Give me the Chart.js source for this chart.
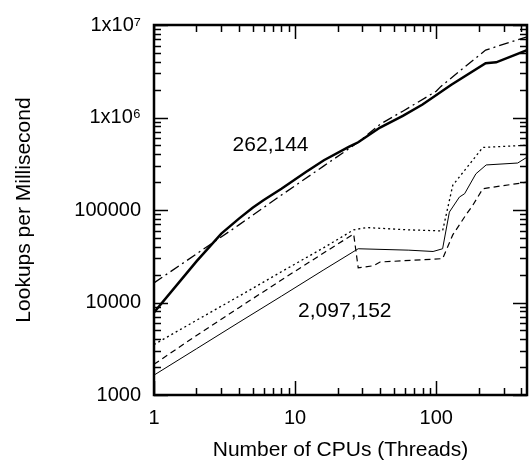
<!DOCTYPE html>
<html>
<head>
<meta charset="utf-8">
<script src="https://cdn.jsdelivr.net/npm/chart.js@4.4.1/dist/chart.umd.min.js"></script>
<style>
  html,body{margin:0;padding:0;background:#fff;}
  #wrap{width:529px;height:463px;}
</style>
</head>
<body>
<div id="wrap"><canvas id="chart" width="529" height="463"></canvas></div>
<script>
// ── DATOS ───────────────────────────────────────────────
// 262,144 entradas
const solid262X   = [1, 2, 3, 4, 5, 6, 8, 12, 16, 24, 28, 40, 58, 80, 128, 224, 266, 440];
const solid262Y   = [7800, 27800, 55600, 80700, 106000, 128000, 170000, 259000, 345000, 480000, 540000, 778000, 1040000, 1380000, 2260000, 3870000, 3950000, 5360000];
const dashdot262X = [1, 2, 4, 8, 16, 28, 40, 58, 100, 108, 224, 440];
const dashdot262Y = [16300, 33500, 69000, 145000, 300000, 540000, 844000, 1170000, 1920000, 2170000, 5360000, 7460000];

// 2,097,152 entradas
const dotted2mX = [1, 2, 4, 8, 16, 26, 32, 64, 111, 131, 162, 214, 440];
const dotted2mY = [3510, 6420, 11700, 21500, 39200, 61000, 64600, 61000, 59400, 185000, 278000, 475000, 502000];
const dashed2mX = [1, 2, 4, 8, 16, 26, 28, 36, 40, 111, 131, 162, 182, 214, 440];
const dashed2mY = [2150, 4400, 8800, 17500, 34500, 55000, 23700, 25000, 27400, 29800, 53800, 88000, 113000, 170000, 200000];
const thin2mX   = [1, 2, 4, 8, 16, 28, 64, 95, 111, 124, 146, 159, 191, 226, 378, 440];
const thin2mY   = [1640, 3160, 6100, 11700, 22600, 38100, 36800, 35600, 38100, 95000, 138000, 150000, 246000, 307000, 322000, 372000];

// ejes
const xMajorTicks = [1, 10, 100];
const xTickLabels = ['1', '10', '100'];
const xMinorTicks = [2,3,4,5,6,7,8,9, 20,30,40,50,60,70,80,90, 200,300,400];
const yMajorTicks = [1e3, 1e4, 1e5, 1e6, 1e7];
const yTickLabels = ['1000', '10000', '100000', '1x10\u2076', '1x10\u2077'];
const yMinorTicks = [];
[1e3, 1e4, 1e5, 1e6].forEach(d => { for (let k = 2; k <= 9; k++) yMinorTicks.push(d * k); });

// textos dentro del gráfico
const notes = [
  { text: '262,144',   x: 6.7,  y: 499000 },
  { text: '2,097,152', x: 22.5, y: 8130 },
];

// ── UTILS ───────────────────────────────────────────────
const FONT = "'Liberation Sans', Arial, Helvetica, sans-serif";
function pts(xs, ys){ return xs.map((x, i) => ({ x, y: ys[i] })); }
function line(data, width, dash){
  return { data, borderColor:'#000', backgroundColor:'#000', borderWidth:width,
           borderDash:dash, pointRadius:0, tension:0, fill:false };
}

// ── PLUGIN: marco y marcas hacia adentro ────────────────
const frameTicks = {
  id: 'frameTicks',
  afterDatasetsDraw(chart){
    const { ctx, chartArea:a, scales:{ x, y } } = chart;
    ctx.save();
    ctx.strokeStyle = '#000';
    ctx.lineWidth = 1.5;
    ctx.beginPath();
    const tx = (v, len) => {
      const p = Math.round(x.getPixelForValue(v)) + 0.5;
      ctx.moveTo(p, a.bottom); ctx.lineTo(p, a.bottom - len);
      ctx.moveTo(p, a.top);    ctx.lineTo(p, a.top + len);
    };
    const ty = (v, len) => {
      const p = Math.round(y.getPixelForValue(v)) + 0.5;
      ctx.moveTo(a.left, p);  ctx.lineTo(a.left + len, p);
      ctx.moveTo(a.right, p); ctx.lineTo(a.right - len, p);
    };
    xMajorTicks.forEach(v => tx(v, 14));
    xMinorTicks.forEach(v => tx(v, 7));
    yMajorTicks.forEach(v => ty(v, 14));
    yMinorTicks.forEach(v => ty(v, 7));
    ctx.stroke();
    ctx.lineWidth = 2.5;
    ctx.strokeRect(a.left, a.top, a.right - a.left, a.bottom - a.top);

    ctx.fillStyle = '#000';
    ctx.font = '21px ' + FONT;
    ctx.textAlign = 'center';
    ctx.textBaseline = 'middle';
    notes.forEach(n => ctx.fillText(n.text, x.getPixelForValue(n.x), y.getPixelForValue(n.y)));
    ctx.restore();
  }
};

// ── GRÁFICO ─────────────────────────────────────────────
Chart.defaults.color = '#000';
Chart.defaults.font.family = FONT;

new Chart(document.getElementById('chart'), {
  type: 'scatter',
  data: {
    datasets: [
      line(pts(thin2mX, thin2mY), 1, []),
      line(pts(dashed2mX, dashed2mY), 1.2, [6, 4]),
      line(pts(dotted2mX, dotted2mY), 1.3, [2, 3]),
      line(pts(dashdot262X, dashdot262Y), 1.3, [10, 4, 2, 4]),
      line(pts(solid262X, solid262Y), 2.5, []),
    ].map(d => ({ ...d, showLine: true }))
  },
  options: {
    responsive: false,
    devicePixelRatio: 1,
    animation: false,
    layout: { padding: { top: 21, right: 2, left: 0, bottom: 0 } },
    plugins: { legend: { display: false }, tooltip: { enabled: false } },
    scales: {
      x: {
        type: 'logarithmic', min: 1, max: 440, bounds: 'data',
        grid: { display: false, drawTicks: false },
        border: { display: false },
        afterBuildTicks: s => { s.ticks = xMajorTicks.map(v => ({ value: v })); },
        afterFit: s => { s.height = 68; },
        ticks: { autoSkip: false, maxRotation: 0, padding: 11,
                 font: { size: 20 }, callback: (v, i) => xTickLabels[i] },
        title: { display: true, text: 'Number of CPUs (Threads)',
                 font: { size: 21 }, padding: { top: 0, bottom: 0 } }
      },
      y: {
        type: 'logarithmic', min: 1000, max: 1e7, bounds: 'data',
        grid: { display: false, drawTicks: false },
        border: { display: false },
        afterBuildTicks: s => { s.ticks = yMajorTicks.map(v => ({ value: v })); },
        afterFit: s => { s.width = 154; },
        ticks: { autoSkip: false, padding: 13,
                 font: { size: 20 }, callback: (v, i) => yTickLabels[i] },
        title: { display: true, text: 'Lookups per Millisecond',
                 font: { size: 21 }, padding: { top: 12, bottom: 0 } }
      }
    }
  },
  plugins: [frameTicks]
});
</script>
</body>
</html>
